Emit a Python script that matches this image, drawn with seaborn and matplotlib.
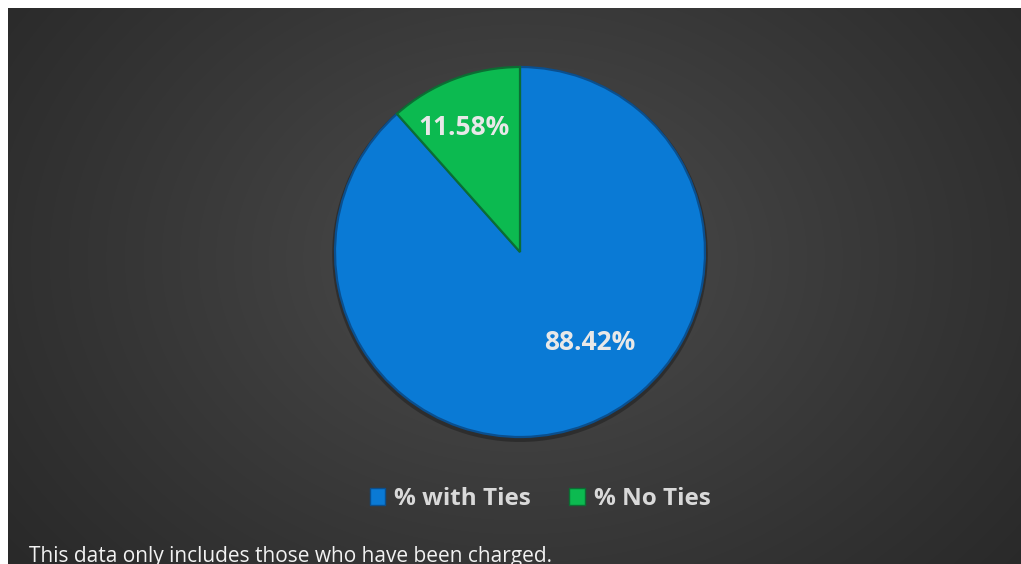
import numpy as np
import matplotlib
matplotlib.use("Agg")
import matplotlib.pyplot as plt
from matplotlib.patches import Patch
import seaborn as sns

# Share of charged cases with and without ties
categories = ["% with Ties", "% No Ties"]
shares = [88.42, 11.58]
colors = ["#0A7AD5", "#0CBA50"]
edge_colors = ["#0A4F8E", "#0B6E33"]
footnote = "This data only includes those who have been charged."

sns.set_theme(style="white")
plt.rcParams["font.family"] = ["Open Sans", "DejaVu Sans"]

W, H = 1021, 564
fig = plt.figure(figsize=(W / 100, H / 100), dpi=100)
fig.patch.set_facecolor("white")

# Dark panel with a soft radial glow behind the pie
bg = fig.add_axes([8 / W, 0, (W - 8) / W, (H - 8) / H])
yy, xx = np.mgrid[0:556, 0:1013]
cx, cy = 512, 250
d = np.sqrt(((xx - cx) / 1.3) ** 2 + (yy - cy) ** 2)
d = np.clip(d / 540, 0, 1)
shade = 0.31 - 0.16 * d ** 0.85
img = np.dstack([shade, shade, shade])
bg.imshow(img, aspect="auto", interpolation="bilinear")
bg.set_axis_off()

# Pie
R = 185
pcx, pcy = 520, 252
pad = 10
ax = fig.add_axes([(pcx - R - pad) / W, (H - pcy - R - pad) / H,
                   (2 * R + 2 * pad) / W, (2 * R + 2 * pad) / H])

# faint shadow under the pie
ax.pie([1], radius=1.015, colors=["#1c1c1c"], center=(0.0, -0.012),
       wedgeprops=dict(linewidth=0, alpha=0.5))
wedges, _ = ax.pie(shares, colors=colors, startangle=90, counterclock=False,
                   radius=1.0,
                   wedgeprops=dict(linewidth=1.6))
for w, ec in zip(wedges, edge_colors):
    w.set_edgecolor(ec)

lim = 1.0 + pad / R
ax.set_xlim(-lim, lim)
ax.set_ylim(-lim, lim)
ax.set_aspect("equal")
ax.set_axis_off()

# Value labels
label_pos = [(0.375, -0.49), (-0.30, 0.675)]
for (lx, ly), v in zip(label_pos, shares):
    ax.text(lx, ly, f"{v:.2f}%", ha="center", va="center",
            fontsize=19, fontweight="bold", color="#e8e8e8")

# Legend
handles = [Patch(facecolor=c, edgecolor=e, linewidth=1.0)
           for c, e in zip(colors, edge_colors)]
leg = fig.legend(handles, categories, loc="center",
                 bbox_to_anchor=(540 / W, 1 - 499 / H), ncol=2,
                 frameon=False, handlelength=0.65, handleheight=0.75,
                 handletextpad=0.35, columnspacing=1.6,
                 prop=dict(size=17.5, weight="bold"))
for t in leg.get_texts():
    t.set_color("#d9d9d9")

# Footnote
fig.text(29 / W, 1 - 562 / H, footnote, ha="left", va="baseline",
         fontsize=15, color="#f2f2f2")

fig.savefig("out.png", dpi=100, facecolor=fig.get_facecolor())
